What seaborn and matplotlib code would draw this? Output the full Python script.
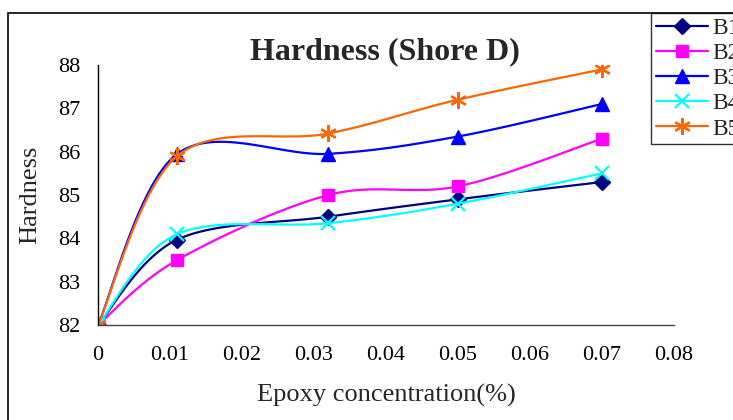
import numpy as np
import pandas as pd
import seaborn as sns
import matplotlib.pyplot as plt
from matplotlib.lines import Line2D
from matplotlib.patches import Rectangle

# data
epoxy = [0, 0.011, 0.032, 0.05, 0.07]
b1 = [82.0, 83.97, 84.5, 84.9, 85.3]
b2 = [82.0, 83.5, 85.0, 85.2, 86.3]
b3 = [82.0, 85.95, 85.95, 86.35, 87.1]
b4 = [82.0, 84.1, 84.35, 84.8, 85.5]
b5 = [82.0, 85.9, 86.42, 87.2, 87.9]
series_names = ['B1', 'B2', 'B3', 'B4', 'B5']
x_ticks = [0, 0.01, 0.02, 0.03, 0.04, 0.05, 0.06, 0.07, 0.08]
x_ticklabels = ['0', '0.01', '0.02', '0.03', '0.04', '0.05', '0.06', '0.07', '0.08']
y_ticks = [82, 83, 84, 85, 86, 87, 88]

colors = ['#000080', '#FF00FF', '#0000FF', '#00FFFF', '#FF6600']
markers = ['D', 's', '^', 'x', (6, 2, 0)]
msizes = [8, 9, 10, 10, 12]


def smooth(xs, ys, n=30):
    # Excel-like smoothed line (Catmull-Rom as cubic Bezier)
    px = np.array([xs[0]] + list(xs) + [xs[-1]], dtype=float)
    py = np.array([ys[0]] + list(ys) + [ys[-1]], dtype=float)
    out_x, out_y = [], []
    t = np.linspace(0, 1, n)
    for i in range(1, len(px) - 2):
        p0 = np.array([px[i], py[i]])
        p3 = np.array([px[i + 1], py[i + 1]])
        c1 = p0 + (np.array([px[i + 1], py[i + 1]]) - np.array([px[i - 1], py[i - 1]])) / 6
        c2 = p3 - (np.array([px[i + 2], py[i + 2]]) - np.array([px[i], py[i]])) / 6
        pts = ((1 - t) ** 3)[:, None] * p0 + (3 * (1 - t) ** 2 * t)[:, None] * c1 \
            + (3 * (1 - t) * t ** 2)[:, None] * c2 + (t ** 3)[:, None] * p3
        out_x += list(pts[:, 0])
        out_y += list(pts[:, 1])
    return out_x, out_y


sns.set_style('white')
plt.rcParams['font.family'] = ['Liberation Serif', 'DejaVu Serif']

fig = plt.figure(figsize=(7.33, 4.2), dpi=100)
ax = fig.add_axes([98 / 733, 1 - 325 / 420, (674 - 98) / 733, (325 - 65) / 420])

handles = []
for name, ys, c, m, ms in zip(series_names, [b1, b2, b3, b4, b5], colors, markers, msizes):
    sx, sy = smooth(epoxy, ys)
    curve = pd.DataFrame({'x': sx, 'y': sy})
    sns.lineplot(data=curve, x='x', y='y', ax=ax, color=c, linewidth=1.6, sort=False,
                 estimator=None, legend=False)
    ax.plot(epoxy, ys, linestyle='none', marker=m, color=c, markersize=ms,
            markeredgewidth=1.6 if m in ('x', (6, 2, 0)) else 1)
    handles.append(Line2D([], [], color=c, marker=m, markersize=ms, linewidth=1.6,
                          markeredgewidth=1.6 if m in ('x', (6, 2, 0)) else 1, label=name))

ax.set_xlim(0, 0.08)
ax.set_ylim(82, 88)
ax.set_xticks(x_ticks)
ax.set_xticklabels(x_ticklabels)
ax.set_yticks(y_ticks)
ax.tick_params(axis='both', labelsize=16, colors='black', direction='out')
ax.tick_params(axis='x', length=6, width=1, pad=9, color='#444444')
ax.tick_params(axis='y', length=5, width=1, pad=8)
for s in ['top', 'right']:
    ax.spines[s].set_visible(False)
ax.spines['left'].set_color('black')
ax.spines['bottom'].set_color('#444444')
for s in ['left', 'bottom']:
    ax.spines[s].set_linewidth(1)
ax.set_xlabel('Epoxy concentration(%)', fontsize=19, labelpad=14)
ax.set_ylabel('Hardness', fontsize=19, labelpad=12)
ax.patch.set_alpha(0)

fig.text(385 / 733, 1 - 52 / 420, 'Hardness (Shore D)', fontsize=23, fontweight='bold',
         ha='center', va='center')

# outer chart frame (cut off at the right and bottom)
fig.patches.append(Rectangle((8 / 733, -0.1), 1.2, 1 - 13 / 420 + 0.1, transform=fig.transFigure,
                             fill=False, edgecolor='black', linewidth=1.2, zorder=0))

leg = fig.legend(handles=handles, loc='upper left', bbox_to_anchor=(651 / 733, 1 - 13 / 420),
                 frameon=True, fancybox=False, fontsize=17, handlelength=2.2,
                 borderpad=0.2, labelspacing=0.15, handletextpad=0.2, borderaxespad=0)
leg.get_frame().set_edgecolor('black')
leg.get_frame().set_linewidth(1)

fig.savefig('out.png', dpi=100)
